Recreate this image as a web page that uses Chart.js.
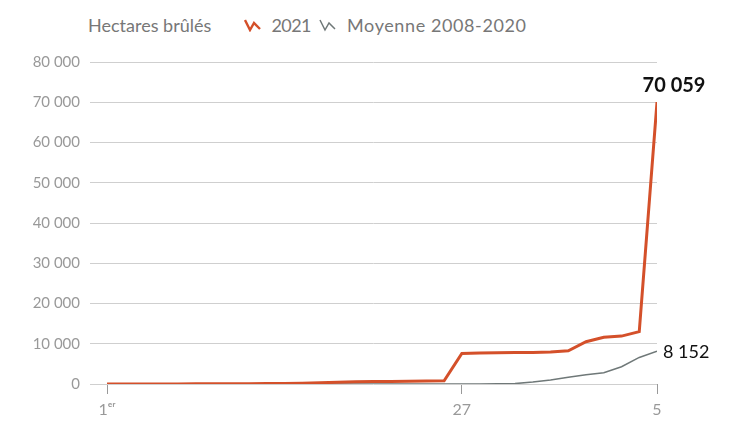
<!DOCTYPE html>
<html>
<head>
<meta charset="utf-8">
<script src="https://cdn.jsdelivr.net/npm/chart.js@4"></script>
<style>
  body { margin: 0; background: #fff; }
  #wrap { position: relative; width: 749px; height: 421px; overflow: hidden; }
  #head { position: absolute; left: 88px; top: 12px; font-family: Lato, sans-serif; font-size: 18px; color: #777; white-space: nowrap; }
  #head span, #head svg { vertical-align: middle; }
  canvas { position: absolute; left: 0; top: 0; }
</style>
</head>
<body>
<div id="wrap">
  <div id="head">
    <span>Hectares brûlés</span>
    <svg width="18" height="14" style="margin-left:28px"><polyline points="1,2 6,12 10,5 16,11" fill="none" stroke="#d4502a" stroke-width="2.4"/></svg>
    <span style="margin-left:5px;letter-spacing:-0.6px">2021</span>
    <svg width="18" height="14" style="margin-left:4px"><polyline points="1,2 6,12 10,5 16,11" fill="none" stroke="#6f7878" stroke-width="1.5"/></svg>
    <span style="margin-left:5px;letter-spacing:0.6px">Moyenne 2008-2020</span>
  </div>
  <canvas id="chart" width="749" height="421"></canvas>
</div>
<script>
// cumulative burned area, one value per point on the x axis
var points = [];
for (var i = 0; i < 32; i++) points.push(i);
var values2021 = [0, 0, 10, 20, 30, 40, 50, 60, 80, 100, 150, 200, 300, 450, 550, 600, 650, 700, 750, 800,
                  7600, 7700, 7750, 7800, 7850, 7950, 8250, 10500, 11600, 11900, 13000, 70059];
var valuesAvg = [0, 0, 0, 0, 0, 0, 0, 0, 0, 0, 0, 0, 0, 0, 0, 0, 0, 0, 0, 10,
                 20, 30, 50, 100, 500, 1000, 1700, 2300, 2800, 4300, 6600, 8152];
var tickLabels = {0: "1ᵉʳ", 20: "27", 31: "5"};
var yTicks = [0, 10000, 20000, 30000, 40000, 50000, 60000, 70000, 80000];

function fmt(v) {
  return String(v).replace(/\B(?=(\d{3})+(?!\d))/g, " ");
}

var endLabels = {
  id: "endLabels",
  afterDatasetsDraw: function(chart) {
    var ctx = chart.ctx, x = chart.scales.x, y = chart.scales.y;
    var last = points.length - 1;
    ctx.save();
    ctx.fillStyle = "#111";
    ctx.textBaseline = "middle";
    ctx.textAlign = "center";
    ctx.font = "bold 20px Lato";
    ctx.fillText(fmt(values2021[last]), x.getPixelForValue(last) + 17, y.getPixelForValue(values2021[last]) - 16);
    ctx.textAlign = "left";
    ctx.font = "18px Lato";
    ctx.fillText(fmt(valuesAvg[last]), x.getPixelForValue(last) + 6, y.getPixelForValue(valuesAvg[last]) + 1);
    ctx.restore();
  }
};

new Chart("chart", {
  type: "line",
  data: {
    datasets: [{
      data: points.map(function(p, i) { return {x: p, y: values2021[i]}; }),
      borderColor: "#d4502a",
      borderWidth: 3,
      pointRadius: 0,
      tension: 0
    }, {
      data: points.map(function(p, i) { return {x: p, y: valuesAvg[i]}; }),
      borderColor: "#6f7878",
      borderWidth: 1.5,
      pointRadius: 0,
      tension: 0
    }]
  },
  options: {
    responsive: false,
    animation: false,
    layout: { padding: { left: 0, right: 92, top: 62, bottom: 0 } },
    plugins: { legend: { display: false }, tooltip: { enabled: false } },
    scales: {
      x: {
        type: "linear",
        min: -0.96,
        max: 31,
        afterBuildTicks: function(s) { s.ticks = [{value: 0}, {value: 20}, {value: 31}]; },
        afterFit: function(s) { s.height = 37; },
        grid: { drawOnChartArea: false, tickLength: 10, color: "#999", lineWidth: 1 },
        border: { display: false },
        ticks: {
          autoSkip: false,
          maxRotation: 0,
          padding: 6,
          color: "#999",
          font: { family: "Lato", size: 16 },
          callback: function(v) { return tickLabels[v] || ""; }
        }
      },
      y: {
        min: 0,
        max: 80000,
        afterBuildTicks: function(s) { s.ticks = yTicks.map(function(v) { return {value: v}; }); },
        afterFit: function(s) { s.width = 90; },
        grid: { drawTicks: false, color: "#cfcfcf", lineWidth: 1 },
        border: { display: false },
        ticks: {
          padding: 10,
          color: "#999",
          font: { family: "Lato", size: 15 },
          callback: function(v) { return fmt(v); }
        }
      }
    }
  },
  plugins: [endLabels]
});
</script>
</body>
</html>
